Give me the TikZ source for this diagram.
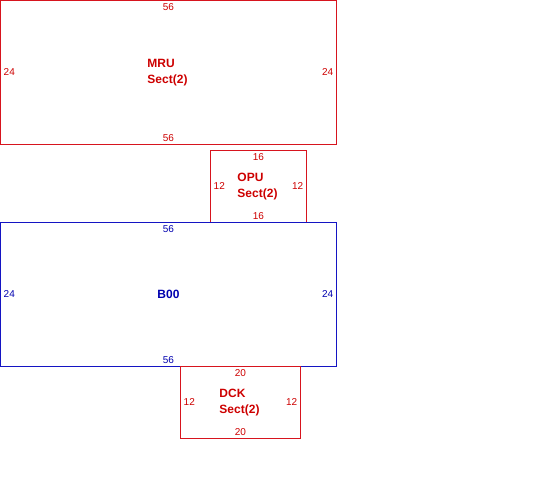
\documentclass[tikz,border=0pt]{standalone}
\usepackage{fontspec}
\setmainfont{Liberation Sans}
\usepackage{tikz}
\usetikzlibrary{positioning}

\definecolor{secred}{RGB}{215,20,30}
\definecolor{sectxt}{RGB}{205,0,0}
\definecolor{basblue}{RGB}{20,20,195}
\definecolor{bastxt}{RGB}{0,0,175}

\tikzset{
    unitbox/.style={rectangle, draw=#1, line width=1.3pt, inner sep=0pt, outer sep=0pt, anchor=north west},
    dimlbl/.style={inner sep=3pt, font=\fontsize{10}{12}\selectfont},
    namelbl/.style={align=left, inner sep=0pt, font=\fontsize{12}{16}\selectfont\bfseries},
}

\begin{document}
\begin{tikzpicture}[x=1pt, y=-1pt]
    \useasboundingbox (0,0) rectangle (550,500);

    % MRU
    \node[unitbox=secred, minimum width=336pt, minimum height=144pt] (mru) at (0.5,0.5) {};
    \node[dimlbl, text=sectxt, anchor=north] (mrut) at (mru.north) {56};
    \node[dimlbl, text=sectxt, anchor=south] (mrub) at (mru.south) {56};
    \node[dimlbl, text=sectxt, anchor=west] (mrul) at (mru.west) {24};
    \node[dimlbl, text=sectxt, anchor=east] (mrur) at (mru.east) {24};
    \node[namelbl, text=sectxt] (mrun) at ([xshift=-1pt]mru.center) {MRU\\Sect(2)};

    % OPU
    \node[unitbox=secred, minimum width=96pt, minimum height=72pt] (opu) at (210.5,150.5) {};
    \node[dimlbl, text=sectxt, anchor=north] (oput) at (opu.north) {16};
    \node[dimlbl, text=sectxt, anchor=south] (opub) at (opu.south) {16};
    \node[dimlbl, text=sectxt, anchor=west] (opul) at (opu.west) {12};
    \node[dimlbl, text=sectxt, anchor=east] (opur) at (opu.east) {12};
    \node[namelbl, text=sectxt] (opun) at ([xshift=-1pt]opu.center) {OPU\\Sect(2)};

    % B00
    \node[unitbox=basblue, minimum width=336pt, minimum height=144pt] (boo) at (0.5,222.5) {};
    \node[dimlbl, text=bastxt, anchor=north] (boot) at (boo.north) {56};
    \node[dimlbl, text=bastxt, anchor=south] (boob) at (boo.south) {56};
    \node[dimlbl, text=bastxt, anchor=west] (bool) at (boo.west) {24};
    \node[dimlbl, text=bastxt, anchor=east] (boor) at (boo.east) {24};
    \node[namelbl, text=bastxt] (boon) at (boo.center) {B00};

    % DCK
    \node[unitbox=secred, minimum width=120pt, minimum height=72pt] (dck) at (180.5,366.5) {};
    \node[dimlbl, text=sectxt, anchor=north] (dckt) at (dck.north) {20};
    \node[dimlbl, text=sectxt, anchor=south] (dckb) at (dck.south) {20};
    \node[dimlbl, text=sectxt, anchor=west] (dckl) at (dck.west) {12};
    \node[dimlbl, text=sectxt, anchor=east] (dckr) at (dck.east) {12};
    \node[namelbl, text=sectxt] (dckn) at ([xshift=-1pt]dck.center) {DCK\\Sect(2)};
\end{tikzpicture}
\end{document}
